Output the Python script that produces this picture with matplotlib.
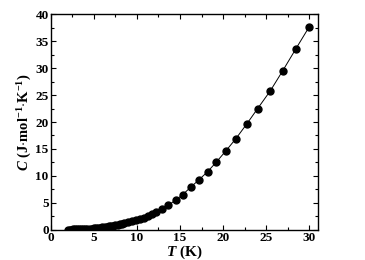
import matplotlib
matplotlib.use("Agg")
import matplotlib.pyplot as plt
from matplotlib.ticker import MultipleLocator

T = [2.0, 2.2, 2.4, 2.6, 2.8, 3.0, 3.25, 3.5, 3.75, 4.0, 4.25, 4.5, 4.75, 5.0,
     5.25, 5.5, 5.75, 6.0, 6.25, 6.5, 6.75, 7.0, 7.25, 7.5, 7.75, 8.0, 8.25,
     8.53, 9.0, 9.45, 9.9, 10.36, 10.82, 11.28, 11.77, 12.27, 12.92, 13.6,
     14.5, 15.3, 16.24, 17.2, 18.19, 19.22, 20.3, 21.48, 22.74, 24.0, 25.49,
     26.9, 28.43, 30.0]
C = [0.02, 0.02, 0.03, 0.04, 0.05, 0.06, 0.07, 0.09, 0.11, 0.13, 0.16, 0.19,
     0.22, 0.25, 0.29, 0.33, 0.38, 0.43, 0.49, 0.55, 0.62, 0.69, 0.77, 0.85,
     0.94, 1.03, 1.12, 1.24, 1.37, 1.55, 1.74, 1.98, 2.22, 2.54, 2.91, 3.28,
     3.9, 4.52, 5.5, 6.5, 7.9, 9.27, 10.76, 12.57, 14.6, 16.9, 19.63, 22.48,
     25.82, 29.47, 33.56, 37.7]

plt.rcParams['font.family'] = ['Liberation Serif', 'DejaVu Serif']
plt.rcParams['font.weight'] = 'bold'
plt.rcParams['mathtext.fontset'] = 'custom'
plt.rcParams['mathtext.rm'] = 'Liberation Serif:bold'
plt.rcParams['mathtext.it'] = 'Liberation Serif:italic:bold'
plt.rcParams['mathtext.bf'] = 'Liberation Serif:bold'

fig = plt.figure(figsize=(3.65, 2.6), dpi=100)
ax = fig.add_axes([0.139, 0.1165, 0.732, 0.8285])
ax.plot(T, C, color='black', lw=0.7, marker='o', markersize=5,
        markerfacecolor='black', markeredgecolor='black')
ax.set_xlim(0, 31)
ax.set_ylim(0, 40)
ax.xaxis.set_major_locator(MultipleLocator(5))
ax.xaxis.set_minor_locator(MultipleLocator(2.5))
ax.yaxis.set_major_locator(MultipleLocator(5))
ax.yaxis.set_minor_locator(MultipleLocator(2.5))
ax.tick_params(which='both', direction='in', top=True, right=True,
               labelsize=9.5, pad=1.5, width=0.8)
ax.tick_params(which='major', length=3.5)
ax.tick_params(which='minor', length=2)
for lab in ax.get_xticklabels() + ax.get_yticklabels():
    lab.set_fontweight('bold')
for s in ax.spines.values():
    s.set_linewidth(1.0)
ax.set_xlabel(r'$T$ (K)', fontsize=11, fontweight='bold', labelpad=0)
ax.set_ylabel(r'$C$ (J$\cdot$mol$^{-1}$$\cdot$K$^{-1}$)', fontsize=10.5,
              fontweight='bold', labelpad=1)
fig.savefig('out.png', dpi=100)
